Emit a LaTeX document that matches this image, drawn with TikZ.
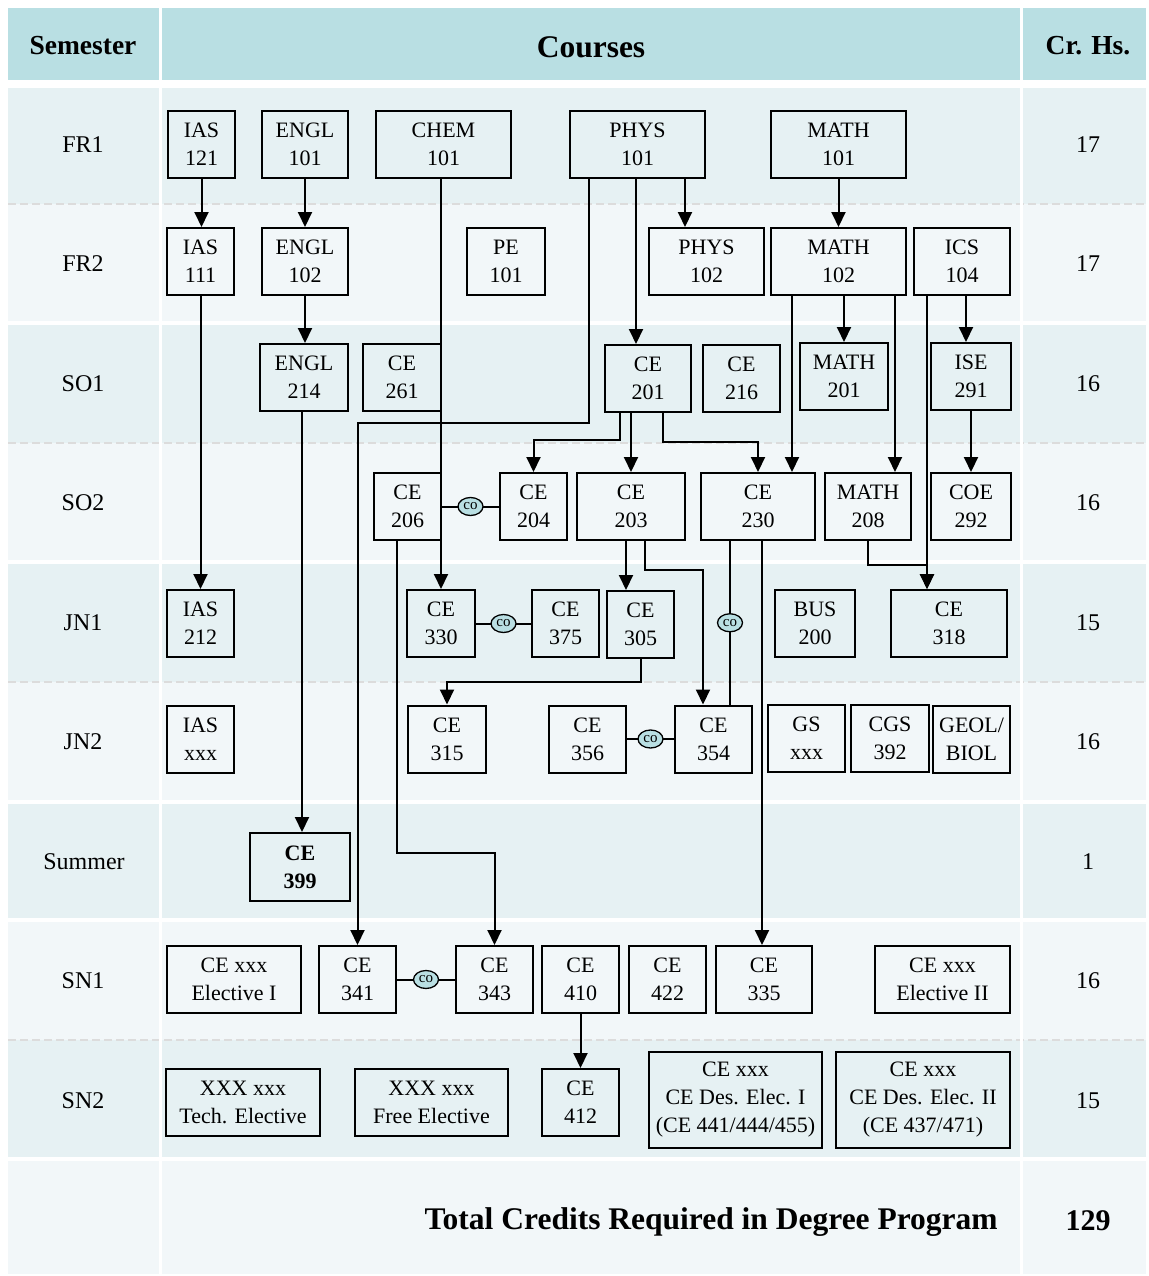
\documentclass[tikz,border=0pt]{standalone}
\usepackage{fontspec}
\setmainfont{Liberation Serif}
\usepackage{xcolor}
\usetikzlibrary{arrows.meta,shapes.geometric}

\definecolor{headteal}{RGB}{185,223,227}
\definecolor{rowdark}{RGB}{230,241,243}
\definecolor{rowlight}{RGB}{242,247,249}
\definecolor{sepgray}{RGB}{220,220,220}

\begin{document}
\begin{tikzpicture}[x=1pt, y=-1pt, line width=2pt,
  crs/.style={draw, line width=2pt, align=center, inner sep=0pt, minimum height=67pt, font=\fontsize{22}{28}\selectfont},
  co/.style={ellipse, draw, line width=1.3pt, fill=headteal, inner sep=0pt, minimum width=25pt, minimum height=18pt, font=\fontsize{15}{15}\selectfont},
  arr/.style={-{Triangle[length=15pt,width=14pt]}},
  lbl/.style={font=\fontsize{24}{24}\selectfont},
  hdr/.style={font=\fontsize{27.5}{28}\selectfont\bfseries}]
\useasboundingbox (0,0) rectangle (1148,1276);

% table
\fill[headteal] (8,8) rectangle (1146,80);
\fill[rowdark] (8,88) rectangle (1146,204);
\fill[rowlight] (8,204) rectangle (1146,323);
\fill[rowdark] (8,323) rectangle (1146,443);
\fill[rowlight] (8,443) rectangle (1146,562);
\fill[rowdark] (8,562) rectangle (1146,682);
\fill[rowlight] (8,682) rectangle (1146,802);
\fill[rowdark] (8,802) rectangle (1146,920);
\fill[rowlight] (8,920) rectangle (1146,1040);
\fill[rowdark] (8,1040) rectangle (1146,1159);
\fill[rowlight] (8,1159) rectangle (1146,1274);
\draw[sepgray, line width=1.5pt, dash pattern=on 8pt off 4pt] (8,204) -- (1146,204);
\draw[sepgray, line width=1.5pt, dash pattern=on 8pt off 4pt] (8,443) -- (1146,443);
\draw[sepgray, line width=1.5pt, dash pattern=on 8pt off 4pt] (8,682) -- (1146,682);
\draw[sepgray, line width=1.5pt, dash pattern=on 8pt off 4pt] (8,1040) -- (1146,1040);
\draw[white, line width=4pt] (8,323) -- (1146,323);
\draw[white, line width=4pt] (8,562) -- (1146,562);
\draw[white, line width=4pt] (8,802) -- (1146,802);
\draw[white, line width=4pt] (8,920) -- (1146,920);
\draw[white, line width=4pt] (8,1159) -- (1146,1159);
\draw[white, line width=3pt] (160.5,0) -- (160.5,1276);
\draw[white, line width=3pt] (1021.5,0) -- (1021.5,1276);

\node[hdr] (semhead) at (83,46) {Semester};
\node[font=\fontsize{31.5}{32}\selectfont\bfseries] (crshead) at (591,47) {Courses};
\node[hdr] (crhead) at (1088,46) {Cr. Hs.};

\node[lbl] (semfr1) at (83,145) {FR1};
\node[lbl] (semfr2) at (83,264) {FR2};
\node[lbl] (semso1) at (83,384) {SO1};
\node[lbl] (semso2) at (83,503) {SO2};
\node[lbl] (semjn1) at (83,623) {JN1};
\node[lbl] (semjn2) at (83,742) {JN2};
\node[lbl] (semsum) at (84,862) {Summer};
\node[lbl] (semsn1) at (83,981) {SN1};
\node[lbl] (semsn2) at (83,1101) {SN2};
\node[lbl] (crfr1) at (1088,145) {17};
\node[lbl] (crfr2) at (1088,264) {17};
\node[lbl] (crso1) at (1088,384) {16};
\node[lbl] (crso2) at (1088,503) {16};
\node[lbl] (crjn1) at (1088,623) {15};
\node[lbl] (crjn2) at (1088,742) {16};
\node[lbl] (crsum) at (1088,862) {1};
\node[lbl] (crsn1) at (1088,981) {16};
\node[lbl] (crsn2) at (1088,1101) {15};
\node[font=\fontsize{31.5}{32}\selectfont\bfseries, anchor=east] (total) at (1002,1222) {Total Credits Required in Degree Program};
\node[font=\fontsize{30}{30}\selectfont\bfseries] (crtotal) at (1088,1221) {129};

% FR1
\node[crs, minimum width=67pt] (ias121) at (201.5,144.5) {IAS\\121};
\node[crs, minimum width=86pt] (engl101) at (305,144.5) {ENGL\\101};
\node[crs, minimum width=135pt] (chem101) at (443.5,144.5) {CHEM\\101};
\node[crs, minimum width=135pt] (phys101) at (637.5,144.5) {PHYS\\101};
\node[crs, minimum width=135pt] (math101) at (838.5,144.5) {MATH\\101};
% FR2
\node[crs, minimum width=67pt] (ias111) at (200.5,261.5) {IAS\\111};
\node[crs, minimum width=86pt] (engl102) at (305,261.5) {ENGL\\102};
\node[crs, minimum width=78pt] (pe101) at (506,261.5) {PE\\101};
\node[crs, minimum width=115pt] (phys102) at (706.5,261.5) {PHYS\\102};
\node[crs, minimum width=135pt] (math102) at (838.5,261.5) {MATH\\102};
\node[crs, minimum width=96pt] (ics104) at (962,261.5) {ICS\\104};
% SO1
\node[crs, minimum width=88pt] (engl214) at (304,377.5) {ENGL\\214};
\node[crs, minimum width=78pt] (ce261) at (402,377.5) {CE\\261};
\node[crs, minimum width=86pt] (ce201) at (648,378.5) {CE\\201};
\node[crs, minimum width=77pt] (ce216) at (741.5,378.5) {CE\\216};
\node[crs, minimum width=88pt] (math201) at (844,376.5) {MATH\\201};
\node[crs, minimum width=80pt] (ise291) at (971,376.5) {ISE\\291};
% SO2
\node[crs, minimum width=67pt] (ce206) at (407.5,506.5) {CE\\206};
\node[crs, minimum width=67pt] (ce204) at (533.5,506.5) {CE\\204};
\node[crs, minimum width=108pt] (ce203) at (631,506.5) {CE\\203};
\node[crs, minimum width=114pt] (ce230) at (758,506.5) {CE\\230};
\node[crs, minimum width=86pt] (math208) at (868,506.5) {MATH\\208};
\node[crs, minimum width=80pt] (coe292) at (971,506.5) {COE\\292};
% JN1
\node[crs, minimum width=67pt] (ias212) at (200.5,623.5) {IAS\\212};
\node[crs, minimum width=68pt] (ce330) at (441,623.5) {CE\\330};
\node[crs, minimum width=67pt] (ce375) at (565.5,623.5) {CE\\375};
\node[crs, minimum width=67pt] (ce305) at (640.5,624.5) {CE\\305};
\node[crs, minimum width=80pt] (bus200) at (815,623.5) {BUS\\200};
\node[crs, minimum width=116pt] (ce318) at (949,623.5) {CE\\318};
% JN2
\node[crs, minimum width=67pt] (iasxxx) at (200.5,739.5) {IAS\\xxx};
\node[crs, minimum width=78pt] (ce315) at (447,739) {CE\\315};
\node[crs, minimum width=77pt] (ce356) at (587.5,739) {CE\\356};
\node[crs, minimum width=77pt] (ce354) at (713.5,739) {CE\\354};
\node[crs, minimum width=77pt] (gsxxx) at (806.5,738.5) {GS\\xxx};
\node[crs, minimum width=78pt] (cgs392) at (890,738.5) {CGS\\392};
\node[crs, minimum width=77pt] (geolbiol) at (971.5,739) {GEOL/\\BIOL};
% Summer
\node[crs, minimum width=100pt, minimum height=68pt, font=\fontsize{22}{28}\selectfont\bfseries] (ce399) at (300,867) {CE\\399};
% SN1
\node[crs, minimum width=134pt] (elecone) at (234,979.5) {CE xxx\\Elective I};
\node[crs, minimum width=77pt] (ce341) at (357.5,979.5) {CE\\341};
\node[crs, minimum width=77pt] (ce343) at (494.5,979.5) {CE\\343};
\node[crs, minimum width=77pt] (ce410) at (580.5,979.5) {CE\\410};
\node[crs, minimum width=77pt] (ce422) at (667.5,979.5) {CE\\422};
\node[crs, minimum width=96pt] (ce335) at (764,979.5) {CE\\335};
\node[crs, minimum width=135pt] (electwo) at (942.5,979.5) {CE xxx\\Elective II};
% SN2
\node[crs, minimum width=154pt] (techelec) at (243,1102.5) {XXX xxx\\Tech. Elective};
\node[crs, minimum width=153pt] (freeelec) at (431.5,1102.5) {XXX xxx\\Free Elective};
\node[crs, minimum width=77pt] (ce412) at (580.5,1102.5) {CE\\412};
\node[crs, minimum width=173pt, minimum height=96pt] (desone) at (735.5,1100) {CE xxx\\CE Des. Elec. I\\(CE 441/444/455)};
\node[crs, minimum width=174pt, minimum height=96pt] (destwo) at (923,1100) {CE xxx\\CE Des. Elec. II\\(CE 437/471)};

% prerequisites
\draw[arr] (ias121.south) -- (ias121.south |- ias111.north);
\draw[arr] (engl101.south) -- (engl102.north);
\draw[arr] (chem101.south -| ce330) -- (ce330.north);
\draw[arr] (phys101.south -| 685,0) -- (phys102.north -| 685,0);
\draw[arr] (phys101.south -| 636,0) -- (ce201.north -| 636,0);
\draw[arr] (phys101.south -| 589,0) |- (ce341.north |- 0,423) -- (ce341.north);
\draw[arr] (math101.south) -- (math102.north);
\draw[arr] (ias111.south) -- (ias212.north);
\draw[arr] (engl102.south) -- (engl102.south |- engl214.north);
\draw[arr] (engl214.south -| 302,0) -- (ce399.north -| 302,0);
\draw[arr] (math102.south -| math201) -- (math201.north);
\draw[arr] (math102.south -| 792,0) -- (ce230.north -| 792,0);
\draw[arr] (math102.south -| 895,0) -- (math208.north -| 895,0);
\draw[arr] (ics104.south -| 966,0) -- (ise291.north -| 966,0);
\draw[arr] (ics104.south -| 927,0) -- (ce318.north -| 927,0);
\draw[arr] (ise291.south) -- (coe292.north);
\draw[arr] (ce201.south -| 620,0) |- (ce204.north |- 0,440) -- (ce204.north);
\draw[arr] (ce201.south -| ce203) -- (ce203.north);
\draw[arr] (ce201.south -| 663,0) |- (ce230.north |- 0,442) -- (ce230.north);
\draw[arr] (ce206.south -| 397,0) |- (ce343.north |- 0,853) -- (ce343.north);
\draw[arr] (ce203.south -| 626,0) -- (ce305.north -| 626,0);
\draw[arr] (ce203.south -| 645,0) |- (703,570) -- (ce354.north -| 703,0);
\draw[arr] (ce230.south -| 762,0) -- (ce335.north -| 762,0);
\draw[arr] (math208.south) |- (927,565) -- (ce318.north -| 927,0);
\draw[arr] (ce305.south) |- (ce315.north |- 0,682) -- (ce315.north);
\draw[arr] (ce410.south) -- (ce412.north);

% corequisites
\draw (ce206.east) -- node[co] {co} (ce204.west);
\draw (ce330.east) -- node[co] {co} (ce375.west);
\draw (ce230.south -| 730,0) -- node[co] {co} (ce354.north -| 730,0);
\draw (ce356.east) -- node[co] {co} (ce354.west);
\draw (ce341.east) -- node[co] {co} (ce343.west);
\end{tikzpicture}
\end{document}
